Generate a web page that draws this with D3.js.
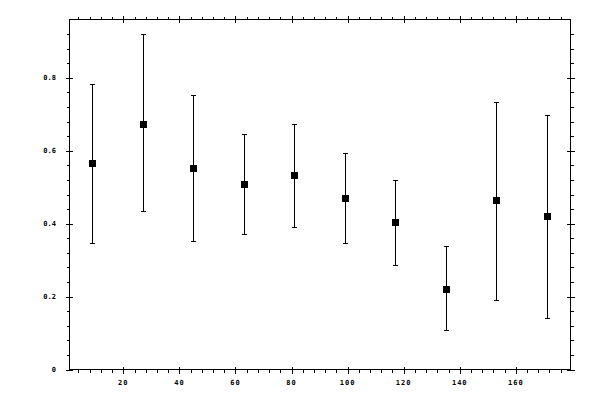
<!DOCTYPE html>
<html><head><meta charset="utf-8">
<script src="https://cdn.jsdelivr.net/npm/d3@7"></script>
<style>body{margin:0;background:#fff}</style>
</head><body><svg id="c" width="600" height="400"></svg>
<script>
const xs = [9, 27, 45, 63, 81, 99, 117, 135, 153, 171];
const ys = [0.567, 0.674, 0.553, 0.510, 0.534, 0.471, 0.405, 0.222, 0.464, 0.422];
const hi = [0.784, 0.919, 0.752, 0.647, 0.674, 0.595, 0.521, 0.340, 0.734, 0.699];
const lo = [0.348, 0.434, 0.352, 0.373, 0.392, 0.348, 0.288, 0.108, 0.192, 0.142];
const xMajor = [20, 40, 60, 80, 100, 120, 140, 160];
const yMajor = [0, 0.2, 0.4, 0.6, 0.8];

const L = 69.5, R = 570.5, T = 19.5, B = 369.5;
const x = d3.scaleLinear().domain([0.8, 179.5]).range([L, R]);
const y = d3.scaleLinear().domain([0, 0.96]).range([B, T]);
const svg = d3.select("#c");
const g = svg.append("g").attr("shape-rendering","crispEdges");

const xMinor = d3.range(4, 180, 4).filter(v => v % 20 !== 0);
const yMinor = d3.range(0.04, 0.95, 0.04).filter(v => Math.abs(v*5 - Math.round(v*5)) > 1e-6);

// frame
g.append("rect").attr("x",L).attr("y",T).attr("width",R-L).attr("height",B-T)
  .attr("fill","none").attr("stroke","#000");

function ln(x1,y1,x2,y2){g.append("line").attr("x1",x1).attr("y1",y1).attr("x2",x2).attr("y2",y2).attr("stroke","#000");}

// x ticks bottom & top
xMajor.forEach(v=>{const p=Math.round(x(v))+0.5; ln(p,B-3,p,B+4); ln(p,T-4,p,T+3);});
xMinor.forEach(v=>{const p=Math.round(x(v))+0.5; ln(p,B,p,B+3); ln(p,T-3,p,T);});
// y ticks left & right
yMajor.forEach(v=>{const p=Math.round(y(v))+0.5; ln(L-4,p,L+3,p); ln(R-4,p,R+4,p);});
yMinor.forEach(v=>{const p=Math.round(y(v))+0.5; ln(L-3,p,L,p); ln(R,p,R+3,p);});

const fmt = v => v===0 ? "0" : d3.format(".1f")(v);
svg.append("g").selectAll("text").data(yMajor).join("text")
  .attr("x", 56).attr("y", d=>y(d)).attr("dy","0.35em").attr("text-anchor","end")
  .attr("font-family","DejaVu Sans Mono").attr("font-size",7).attr("font-weight","bold")
  .text(fmt);
svg.append("g").selectAll("text").data(xMajor).join("text")
  .attr("x", d=>x(d)).attr("y", 384.5).attr("text-anchor","middle")
  .attr("font-family","DejaVu Sans Mono").attr("font-size",7).attr("font-weight","bold")
  .attr("letter-spacing",1)
  .text(d=>d);

// error bars
const pts = xs.map((v,i)=>({x:v,y:ys[i],hi:hi[i],lo:lo[i]}));
const eb = g.append("g");
pts.forEach(d=>{
  const px = Math.round(x(d.x))+0.5;
  ln(px, y(d.hi), px, y(d.lo));
  ln(px-2.5, Math.round(y(d.hi))+0.5, px+2.5, Math.round(y(d.hi))+0.5);
  ln(px-2.5, Math.round(y(d.lo))+0.5, px+2.5, Math.round(y(d.lo))+0.5);
});
g.append("g").selectAll("rect").data(pts).join("rect")
  .attr("x", d=>Math.round(x(d.x))-3).attr("y", d=>Math.round(y(d.y))-3)
  .attr("width",7).attr("height",7).attr("fill","#000");
</script></body></html>
